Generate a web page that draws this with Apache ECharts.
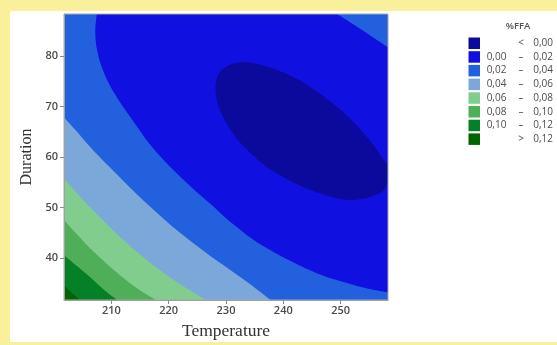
<!DOCTYPE html>
<html>
<head>
<meta charset="utf-8">
<script src="https://cdn.jsdelivr.net/npm/echarts@6/dist/echarts.min.js"></script>
<style>
  html, body { margin: 0; padding: 0; background: #faf09b; }
  #panel { position: absolute; left: 10px; top: 11px; width: 547px; height: 331px; background: #ffffff; }
  #chart { position: absolute; left: 0; top: 0; width: 557px; height: 345px; }
</style>
</head>
<body>
<div id="panel"></div>
<div id="chart"></div>
<script>
// Axis extents (coded design: centre ± 1.414 steps) and tick values
const tempRange = [201.72, 258.28];
const durRange = [31.72, 88.28];
const tempTicks = [210, 220, 230, 240, 250];
const durTicks = [40, 50, 60, 70, 80];

// %FFA bands, lowest first
const bandNames = ['< 0,00', '0,00 – 0,02', '0,02 – 0,04', '0,04 – 0,06',
                   '0,06 – 0,08', '0,08 – 0,10', '0,10 – 0,12', '> 0,12'];
const bandColors = ['#0c0a9c', '#1010e0', '#2260de', '#7ba8d9',
                    '#80cd8d', '#4fae58', '#058027', '#006400'];

// Iso-lines of the fitted surface, as [Temperature, Duration] pairs
const iso000 = [
  [233.84, 78.72], [236.99, 77.93], [240.13, 76.65], [243.27, 74.88], [246.41, 72.51],
  [249.56, 69.75], [252.52, 66.60], [255.14, 63.25], [257.24, 59.90], [258.81, 57.14],
  [257.59, 53.59], [255.84, 52.41], [253.75, 51.72], [251.82, 51.52], [249.21, 51.82],
  [246.41, 52.81], [243.27, 54.18], [240.13, 55.96], [236.99, 58.13], [234.19, 60.89],
  [231.75, 63.84], [229.83, 67.19], [228.61, 70.35], [228.17, 73.30], [228.43, 75.67],
  [229.30, 77.24], [230.70, 78.23], [232.27, 78.62]
];
const iso002a = [
  [207.43, 88.28], [207.18, 84.73], [207.48, 81.19], [208.35, 77.64], [209.75, 74.09],
  [211.67, 70.54], [214.12, 66.60], [216.73, 62.46], [219.18, 59.31], [221.97, 56.16],
  [224.76, 53.20], [227.56, 50.44], [230.00, 47.88], [232.80, 45.32], [235.41, 43.15],
  [238.38, 41.18], [241.35, 39.40], [244.14, 37.83], [247.11, 36.45], [249.90, 35.46],
  [252.87, 34.48], [255.49, 33.79], [258.28, 33.20]
];
const iso002b = [
  [249.38, 88.28], [253.75, 85.13], [258.28, 81.68]
];
const iso004 = [
  [201.72, 67.88], [203.64, 65.42], [205.91, 62.46], [208.35, 59.51], [211.15, 56.35],
  [214.12, 53.00], [217.26, 49.65], [220.57, 46.30], [224.07, 43.15], [227.56, 40.19],
  [231.05, 37.43], [234.19, 34.87], [237.77, 31.72]
];
const iso006 = [
  [201.72, 55.76], [204.51, 52.21], [207.48, 48.67], [210.62, 45.12], [214.12, 41.57],
  [217.78, 38.22], [221.97, 34.87], [226.51, 31.72]
];
const iso008 = [
  [201.72, 47.48], [203.81, 44.92], [206.26, 41.97], [208.88, 39.21], [211.67, 36.45],
  [214.64, 33.89], [217.78, 31.72]
];
const iso010 = [
  [201.72, 40.59], [203.99, 38.42], [206.26, 36.25], [208.53, 33.89], [210.97, 31.72]
];
const iso012 = [
  [201.72, 34.67], [203.12, 33.10], [204.51, 31.72]
];

// Which iso-lines bound each band's layer, and toward which corner it fills
const bandLayers = [
  { closed: iso000 },
  { full: true },
  { open: [[iso002a, 'lowerLeft'], [iso002b, 'upperRight']] },
  { open: [[iso004, 'lowerLeft']] },
  { open: [[iso006, 'lowerLeft']] },
  { open: [[iso008, 'lowerLeft']] },
  { open: [[iso010, 'lowerLeft']] },
  { open: [[iso012, 'lowerLeft']] }
];
const bandZ = [9, 1, 2, 3, 4, 5, 6, 7];

function fmt(p) { return p[0].toFixed(2) + ',' + p[1].toFixed(2); }

// Catmull-Rom spline through pixel points, written as cubic Bezier segments
function splinePath(pts, closed) {
  const n = pts.length;
  const at = (i) => closed ? pts[(i + n) % n] : pts[Math.max(0, Math.min(n - 1, i))];
  let d = 'M' + fmt(pts[0]);
  const segs = closed ? n : n - 1;
  for (let i = 0; i < segs; i++) {
    const p0 = at(i - 1), p1 = at(i), p2 = at(i + 1), p3 = at(i + 2);
    const c1 = [p1[0] + (p2[0] - p0[0]) / 6, p1[1] + (p2[1] - p0[1]) / 6];
    const c2 = [p2[0] - (p3[0] - p1[0]) / 6, p2[1] - (p3[1] - p1[1]) / 6];
    d += ' C' + fmt(c1) + ' ' + fmt(c2) + ' ' + fmt(p2);
  }
  return d;
}

// Region between an iso-line and the plot corner it faces
function openRegion(line, toward, api) {
  const pts = line.map((v) => api.coord(v));
  const first = line[0], last = line[line.length - 1];
  let corners;
  if (toward === 'lowerLeft') {
    corners = [];
    if (last[0] >= tempRange[1]) corners.push([tempRange[1], durRange[0]]);
    corners.push([tempRange[0], durRange[0]]);
    if (first[1] >= durRange[1]) corners.push([tempRange[0], durRange[1]]);
  } else {
    corners = [[tempRange[1], durRange[1]]];
  }
  let d = splinePath(pts, false);
  corners.forEach((c) => { d += ' L' + fmt(api.coord(c)); });
  return d + ' Z';
}

function makeRender(idx) {
  const layer = bandLayers[idx];
  return function (params, api) {
    const cs = params.coordSys;
    const clip = { type: 'rect', shape: { x: cs.x, y: cs.y, width: cs.width, height: cs.height } };
    let d;
    if (layer.full) {
      const a = api.coord([tempRange[0], durRange[1]]);
      const b = api.coord([tempRange[1], durRange[0]]);
      d = 'M' + fmt(a) + ' L' + fmt([b[0], a[1]]) + ' L' + fmt(b) + ' L' + fmt([a[0], b[1]]) + ' Z';
    } else if (layer.closed) {
      d = splinePath(layer.closed.map((v) => api.coord(v)), true) + ' Z';
    } else {
      d = layer.open.map((o) => openRegion(o[0], o[1], api)).join(' ');
    }
    return {
      type: 'path',
      shape: { pathData: d },
      style: { fill: bandColors[idx], stroke: null },
      clipPath: clip,
      silent: true
    };
  };
}

const series = bandNames.map((name, i) => ({
  type: 'custom',
  name: name,
  z: bandZ[i],
  color: bandColors[i],
  itemStyle: { color: bandColors[i] },
  renderItem: makeRender(i),
  data: [[tempRange[0], durRange[0]]],
  silent: true
}));

// Legend rows laid out in three columns: lower bound, sign, upper bound
function legendText(name) {
  let l = ' ', m, r;
  if (name[0] === '<' || name[0] === '>') {
    m = name[0];
    r = name.slice(2);
  } else {
    const parts = name.split(' – ');
    l = parts[0]; m = '–'; r = parts[1];
  }
  return '{l|' + l + '}{m|' + m + '}{r|' + r + '}';
}

const legendFont = { color: '#4d4d4d', fontSize: 10, fontFamily: 'Open Sans' };
const axisLabelStyle = { color: '#4a4a4a', fontSize: 11, fontWeight: 600, fontFamily: 'Open Sans' };

const chart = echarts.init(document.getElementById('chart'), null, { renderer: 'canvas' });
chart.setOption({
  backgroundColor: 'transparent',
  animation: false,
  grid: { left: 64, top: 14, right: 169, bottom: 44, show: true, borderColor: '#a8a8a8', borderWidth: 1, z: 10, backgroundColor: 'transparent' },
  xAxis: {
    type: 'value', min: tempRange[0], max: tempRange[1], z: 10,
    name: 'Temperature', nameLocation: 'middle', nameGap: 22,
    nameTextStyle: { fontFamily: 'Liberation Serif', fontSize: 17.5, color: '#333' },
    axisLine: { show: true, lineStyle: { color: '#a0a0a0', width: 1 } },
    axisTick: { show: true, length: 4, customValues: tempTicks, lineStyle: { color: '#8a8a8a' } },
    axisLabel: Object.assign({ customValues: tempTicks, margin: 5 }, axisLabelStyle),
    splitLine: { show: false }
  },
  yAxis: {
    type: 'value', min: durRange[0], max: durRange[1], z: 10,
    name: 'Duration', nameLocation: 'middle', nameGap: 27,
    nameTextStyle: { fontFamily: 'Liberation Serif', fontSize: 16, color: '#333' },
    axisLine: { show: true, lineStyle: { color: '#a0a0a0', width: 1 } },
    axisTick: { show: true, length: 4, customValues: durTicks, lineStyle: { color: '#8a8a8a' } },
    axisLabel: Object.assign({ customValues: durTicks, margin: 6 }, axisLabelStyle),
    splitLine: { show: false }
  },
  legend: {
    orient: 'vertical', left: 463.5, top: 32.5,
    itemWidth: 11.5, itemHeight: 11.5, itemGap: 2.2, icon: 'rect',
    selectedMode: false,
    data: bandNames,
    formatter: legendText,
    textStyle: Object.assign({
      rich: {
        l: Object.assign({ width: 23, align: 'right' }, legendFont),
        m: Object.assign({ width: 26, align: 'center' }, legendFont),
        r: Object.assign({ width: 19, align: 'right' }, legendFont)
      }
    }, legendFont)
  },
  graphic: [{
    type: 'text', x: 518, y: 26,
    style: { text: '%FFA', textAlign: 'center', textVerticalAlign: 'middle', fontSize: 9.5, fontWeight: 600, fontFamily: 'Open Sans', fill: '#555' }
  }],
  series: series
});
</script>
</body>
</html>
